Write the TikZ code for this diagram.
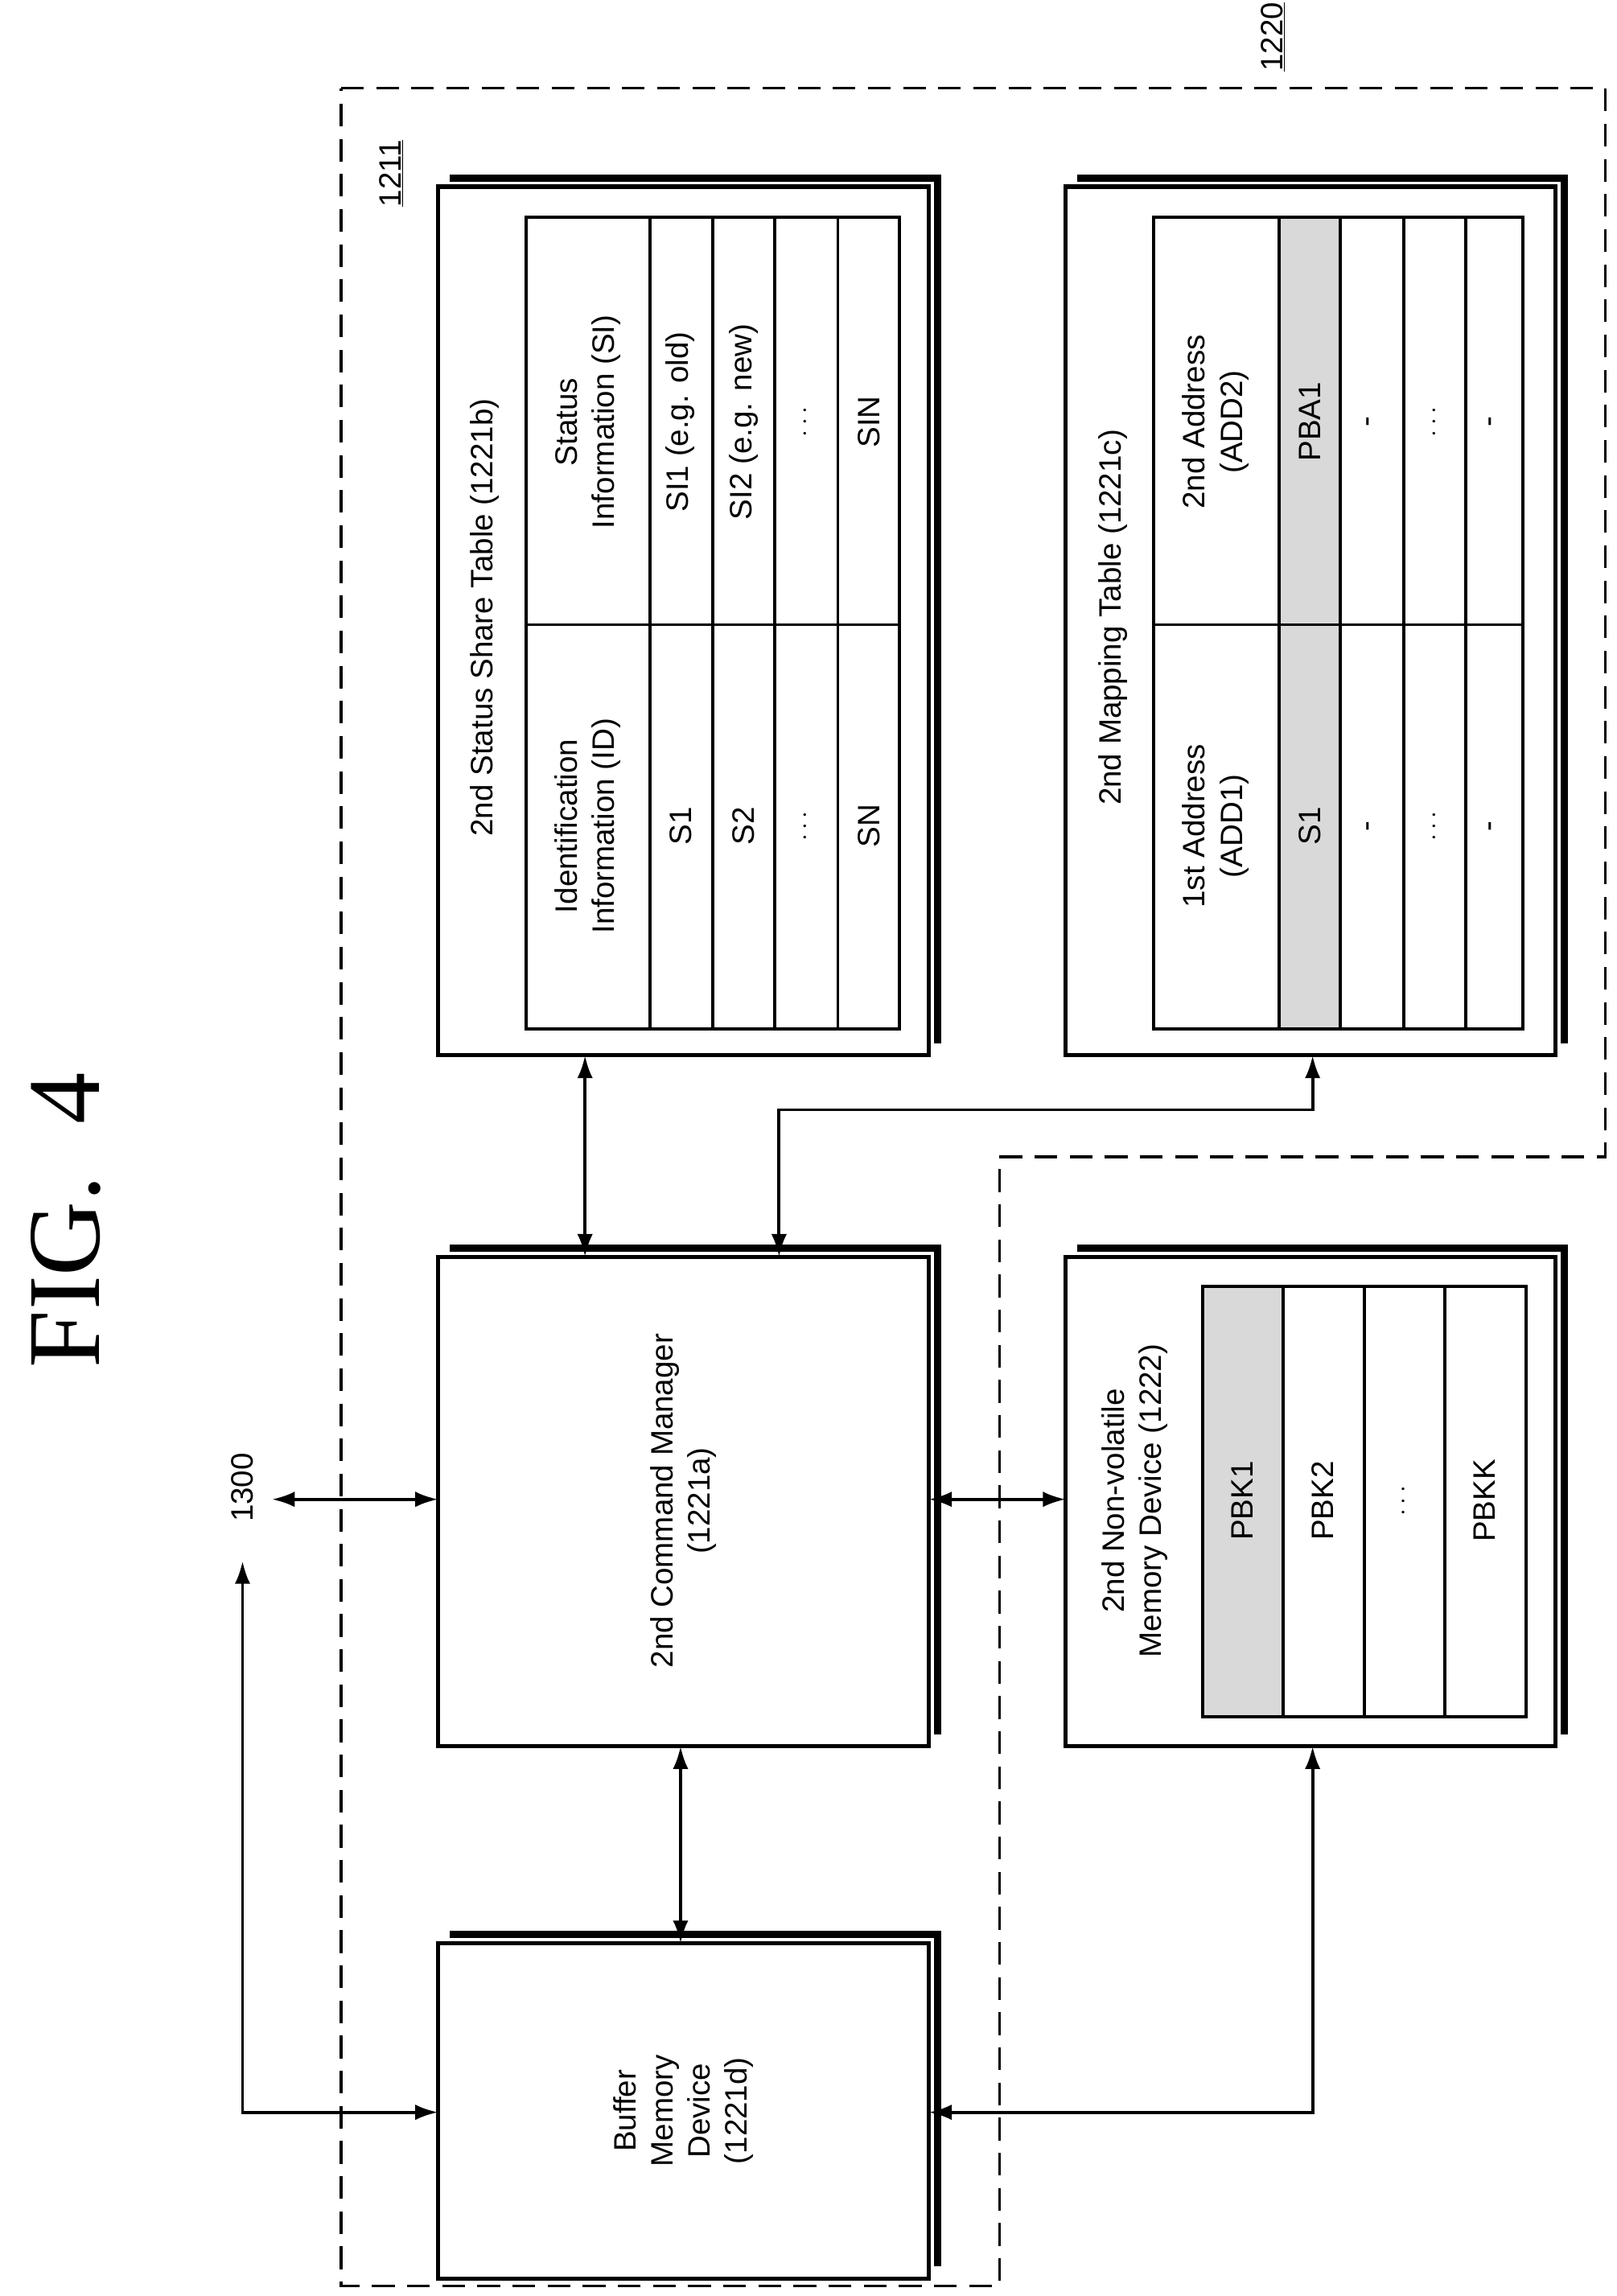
\documentclass[tikz,border=0pt]{standalone}
\usepackage{fontspec}
\setmainfont{Liberation Sans}
\newfontfamily\figfont{Liberation Serif}
\usetikzlibrary{fit,arrows.meta}
\begin{document}
\begin{tikzpicture}[x=0.05cm,y=-0.05cm,
  box/.style={draw,line width=4pt,inner sep=0pt},
  con/.style={line width=3pt,{Latex[length=22pt,width=15pt]}-{Latex[length=22pt,width=15pt]}},
  txt/.style={rotate=90,font=\fontsize{30}{36}\selectfont,align=center},
  cell/.style={draw,line width=3pt},
  dots/.style={rotate=90,font=\fontsize{60}{60}\selectfont\bfseries},
  shade/.style={fill=gray!30}]
\useasboundingbox (0,0) rectangle (1100,1562);
\newcommand{\shadowbox}[5]{%
  \node[box,fit={(#2,#3)(#4,#5)}] (#1) {};
  \draw[line width=7pt] (#2+8,#3-6) -- (#4+6,#3-6) -- (#4+6,#5-8);}
\node[rotate=90,font=\figfont\fontsize{100}{110}\selectfont] (fig) at (45,830) {FIG.\ \ 4};
\node[rotate=90,font=\fontsize{30}{36}\selectfont] (l1220) at (866,25) {\underline{1220}};
\node[rotate=90,font=\fontsize{30}{36}\selectfont] (l1211) at (266,118) {\underline{1211}};
\draw[line width=2.5pt,dash pattern=on 22pt off 12pt] (232,60) -- (1092,60) -- (1092,787) -- (680,787) -- (680,1555) -- (232,1555) -- cycle;
% status share table
\shadowbox{sst}{298}{127}{632}{718}
\node[txt] (sstt) at (330,420) {2nd Status Share Table (1221b)};
\foreach \a/\b in {358/442,442/485,485/527,527/570,570/612}{\draw[cell] (\a,148) rectangle (\b,700);}
\draw[cell] (358,425) -- (612,425);
\node[txt] (h1) at (400,562) {Identification\\Information (ID)};
\node[txt] (h2) at (400,287) {Status\\Information (SI)};
\node[txt] (s1) at (463,562) {S1}; \node[txt] (si1) at (463,287) {SI1 (e.g. old)};
\node[txt] (s2) at (506,562) {S2}; \node[txt] (si2) at (506,287) {SI2 (e.g. new)};
\node[dots] (s3) at (548,562) {$\cdots$}; \node[dots] (si3) at (548,287) {$\cdots$};
\node[txt] (s4) at (591,562) {SN}; \node[txt] (si4) at (591,287) {SIN};
% mapping table
\shadowbox{mt}{725}{127}{1058}{718}
\node[txt] (mtt) at (757,420) {2nd Mapping Table (1221c)};
\fill[shade] (870,148) rectangle (912,700);
\foreach \a/\b in {785/870,870/912,912/955,955/997,997/1036}{\draw[cell] (\a,148) rectangle (\b,700);}
\draw[cell] (785,425) -- (1036,425);
\node[txt] (m1) at (827,562) {1st Address\\(ADD1)};
\node[txt] (m2) at (827,287) {2nd Address\\(ADD2)};
\node[txt] (a1) at (891,562) {S1}; \node[txt] (b1) at (891,287) {PBA1};
\node[txt] (a2) at (933,562) {-}; \node[txt] (b2) at (933,287) {-};
\node[dots] (a3) at (976,562) {$\cdots$}; \node[dots] (b3) at (976,287) {$\cdots$};
\node[txt] (a4) at (1016,562) {-}; \node[txt] (b4) at (1016,287) {-};
% command manager
\shadowbox{cm}{298}{855}{632}{1188}
\node[txt] (cmt) at (465,1021) {2nd Command Manager\\(1221a)};
% nvm
\shadowbox{nvm}{725}{855}{1058}{1188}
\node[txt] (nvmt) at (772,1021) {2nd Non-volatile\\Memory Device (1222)};
\fill[shade] (818,875) rectangle (873,1168);
\foreach \a/\b in {818/873,873/928,928/983,983/1038}{\draw[cell] (\a,875) rectangle (\b,1168);}
\node[txt] (p1) at (845,1021) {PBK1};
\node[txt] (p2) at (900,1021) {PBK2};
\node[dots] (p3) at (955,1021) {$\cdots$};
\node[txt] (p4) at (1010,1021) {PBKK};
% buffer
\shadowbox{buf}{298}{1322}{632}{1550}
\node[txt] (buft) at (465,1436) {Buffer\\Memory\\Device\\(1221d)};
% connectors
\coordinate (ext) at (185,1020);
\coordinate (ext2) at (165,1062);
\node[txt] (l1300) at (165,1012) {1300};
\draw[con] (398,718) -- (398,855);
\draw[con] (530,855) -- (530,755) -- (893,755) -- (893,718);
\draw[con] (ext) -- (298,1020);
\draw[con] (298,1437) -- (165,1437) -- (ext2);
\draw[con] (463,1188) -- (463,1322);
\draw[con] (632,1020) -- (725,1020);
\draw[con] (893,1188) -- (893,1437) -- (632,1437);
\end{tikzpicture}
\end{document}
